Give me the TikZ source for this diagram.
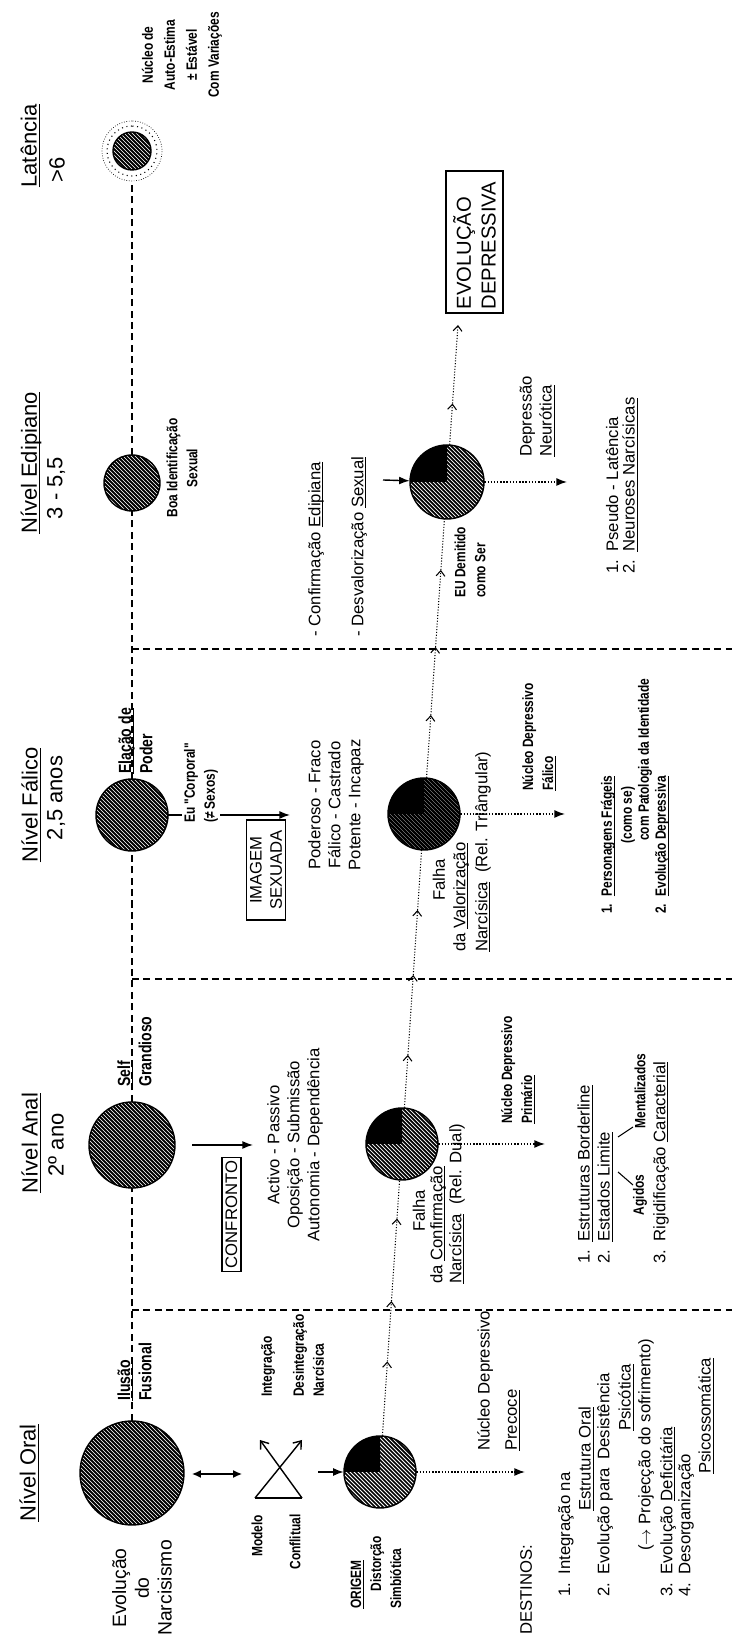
\documentclass[tikz,border=0pt]{standalone}
\usepackage{fontspec}
\setmainfont{Liberation Sans}
\newfontfamily\narrowfont[FakeStretch=0.8]{Liberation Sans}
\usetikzlibrary{arrows.meta,positioning,calc}

\newcommand\uln[1]{\leavevmode\setbox0\hbox{#1}\rlap{\rule[-1.6pt]{\wd0}{0.5pt}}\box0}
\newcommand\hatchdisc[4]{%
  \begin{scope}
    \clip (#1.center) circle (#2);
    \fill[white] (#1.center) circle (#2);
    \foreach \k in {-80,-76,...,80}
      \draw[line width=#4] ($(#1.center)+(\k-90,-90)$) -- ($(#1.center)+(\k+90,90)$);
    \ifnum#3=1
      \fill (#1.center) -- ++(#2,0) arc (0:90:#2) -- cycle;
    \fi
  \end{scope}
  \draw[line width=0.8pt] (#1.center) circle (#2);}

\begin{document}
\begin{tikzpicture}[x=0.02cm, y=0.02cm, rotate=90, transform shape,
  ttl/.style={font=\fontsize{12.5}{14}\selectfont},
  txt/.style={font=\fontsize{9.5}{11.4}\selectfont},
  lbl/.style={font=\narrowfont\bfseries\fontsize{8.5}{11.4}\selectfont},
  lbm/.style={font=\narrowfont\bfseries\fontsize{10}{12}\selectfont},
  disc/.style={circle, inner sep=0pt, minimum size={#1*0.04cm}},
  boxed/.style={draw, line width=0.8pt, inner sep=2pt},
  levelline/.style={dash pattern=on 4pt off 2.5pt, line width=0.8pt},
  flowarrow/.style={densely dotted, line width=0.6pt, -{Straight Barb[length=3pt,width=5pt]}},
  downarrow/.style={densely dotted, line width=0.8pt, -{Latex[length=6pt,width=4.5pt]}},
  push/.style={line width=0.8pt, -{Latex[length=6pt,width=4.5pt]}}]
  \useasboundingbox (0,0) rectangle (1636,-732);

  \node (tOral) [ttl] at (163,-29) {\uln{Nível Oral}};
  \node (tAnal) [ttl] at (493,-31) {\uln{Nível Anal}};
  \node (tAnalAge) [ttl] at (491,-56) {2º ano};
  \node (tFal) [ttl] at (831,-31) {\uln{Nível Fálico}};
  \node (tFalAge) [ttl] at (838,-56) {2,5 anos};
  \node (tEdip) [ttl] at (1173,-31) {\uln{Nível Edipiano}};
  \node (tEdipAge) [ttl] at (1148,-56) {3 - 5,5};
  \node (tLat) [ttl] at (1490,-30) {\uln{Latência}};
  \node (tLatAge) [ttl] at (1466,-57) {>6};

  \node (o1) [disc=52] at (163,-132) {};
  \node (a1) [disc=43] at (491,-132) {};
  \node (f1) [disc=36] at (821,-132) {};
  \node (e1) [disc=28] at (1153,-132) {};
  \node (l1) [disc=30] at (1485,-132) {};
  \draw[levelline] (o1) -- (a1);
  \draw[levelline] (a1) -- (f1);
  \draw[levelline] (f1) -- (e1);
  \draw[levelline] (e1) -- (l1);
  \draw[levelline] (326,-132) -- (326,-732);
  \draw[levelline] (657,-132) -- (657,-732);
  \draw[levelline] (987,-132) -- (987,-732);
  \hatchdisc{o1}{52}{0}{1.1pt}
  \hatchdisc{a1}{43}{0}{1.1pt}
  \hatchdisc{f1}{36}{0}{1.1pt}
  \hatchdisc{e1}{28}{0}{1.1pt}
  \begin{scope}
    \clip (l1.center) circle (19);
    \foreach \k in {-40,-36,...,40}
      \draw[line width=1.1pt] ($(l1.center)+(\k-40,-40)$) -- ($(l1.center)+(\k+40,40)$);
  \end{scope}
  \draw[line width=0.8pt] (l1.center) circle (19);
  \draw[dotted, line width=0.6pt] (l1.center) circle (25);
  \draw[densely dotted, line width=0.4pt] (l1.center) circle (30);

  \node (evoNarc) [font=\fontsize{11}{13}\selectfont, align=center] at (48,-142) {Evolução\\do\\Narcisismo};
  \node (ilusao) [lbm, align=left, anchor=west] at (229,-134.5) {\uln{Ilusão}\\Fusional};
  \coordinate (dblA) at (162,-192);
  \coordinate (dblB) at (162,-242);
  \draw[line width=0.8pt, {Latex[length=5pt,width=4.5pt]}-{Latex[length=5pt,width=4.5pt]}] (dblA) -- (dblB);
  \coordinate (xa) at (138,-255);
  \coordinate (xb) at (138,-302);
  \coordinate (xc) at (196,-260);
  \coordinate (xd) at (196,-302);
  \draw[line width=0.8pt] (xa) -- (xb);
  \draw[line width=0.8pt, -{Straight Barb[length=4pt,width=6pt]}] (xa) -- (xd);
  \draw[line width=0.8pt, -{Straight Barb[length=4pt,width=6pt]}] (xb) -- (xc);
  \node (modelo) [lbl] at (100,-257) {Modelo};
  \node (conflit) [lbl] at (94,-295) {Conflitual};
  \node (integ) [lbl, anchor=west] at (233,-268) {Integração};
  \node (desint) [lbl, align=left, anchor=west] at (233,-308.5) {Desintegração\\Narcísica};
  \node (o2) [disc=36] at (164,-380) {};
  \hatchdisc{o2}{36}{1}{1pt}
  \coordinate (o2in) at (164,-318);
  \draw[push] (o2in) -- (o2);
  \node (origem) [lbl, align=left, anchor=west] at (21,-376) {\uln{ORIGEM}\\\hspace*{10pt}Distorção\\Simbiótica};
  \coordinate (o2out) at (164,-525);
  \draw[downarrow] (o2) -- (o2out);
  \node (nucOral) [txt, align=left, anchor=west] at (179,-498.5) {Núcleo Depressivo\\[4pt]\uln{Precoce}};
  \node (destinos) [txt] at (46,-526) {DESTINOS:};
  \node (dst1) [txt, anchor=west] at (33,-566) {1.\enspace Integração na};
  \node (dst1b) [txt, anchor=west] at (119,-586) {\uln{Estrutura Oral}};
  \node (dst2) [txt, anchor=west] at (33,-605) {2.\enspace Evolução para\enspace Desistência};
  \node (dst2b) [txt, anchor=west] at (199,-626) {\uln{Psicótica}};
  \node (dst2c) [txt, anchor=west] at (79,-646) {($\rightarrow$ Projecção do sofrimento)};
  \node (dst3) [txt, anchor=west] at (33,-668) {3.\enspace Evolução \uln{Deficitária}};
  \node (dst4) [txt, anchor=west] at (33,-686) {4.\enspace Desorganização};
  \node (dst4b) [txt, anchor=west] at (156,-706) {\uln{Psicossomática}};

  \node (self) [lbm, align=left, anchor=west] at (543,-134.5) {\uln{Self}\\Grandioso};
  \coordinate (a1out) at (491,-253);
  \draw[push, shorten <=0.34cm] (a1) -- (a1out);
  \node (confronto) [boxed, txt] at (421.5,-231.5) {CONFRONTO};
  \node (activo) [txt, align=center] at (491,-295) {Activo - Passivo\\Oposição - Submissão\\Autonomia - Dependência};
  \node (o3) [disc=36] at (492,-402) {};
  \hatchdisc{o3}{36}{1}{1pt}
  \node (falhaA) [txt, anchor=east] at (452,-419) {Falha};
  \node (confA) [txt, anchor=west] at (346,-438) {da \uln{Confirmação}};
  \node (narcA) [txt, anchor=west] at (346,-457) {\uln{Narcísica}\ \ (Rel. Dual)};
  \coordinate (o3out) at (492,-545);
  \draw[downarrow] (o3) -- (o3out);
  \node (nucAnal) [lbl, align=left, anchor=west] at (506,-518) {Núcleo Depressivo\\\uln{Primário}};
  \node (bord) [txt, anchor=west] at (366,-585) {1.\enspace\uln{Estruturas Borderline}};
  \node (limite) [txt, anchor=west] at (366,-605) {2.\enspace\uln{Estados Limite}};
  \node (agidos) [lbl] at (441,-640) {Agidos};
  \node (mental) [lbl] at (545,-640) {Mentalizados};
  \node (rigid) [txt, anchor=west] at (366,-661) {3.\enspace Rigidificação \uln{Caracterial}};
  \coordinate (limA) at (464,-618);
  \coordinate (agiA) at (451,-633);
  \coordinate (limB) at (499,-618);
  \coordinate (menB) at (509,-633);
  \draw[line width=0.6pt] (limA) -- (agiA);
  \draw[line width=0.6pt] (limB) -- (menB);

  \node (elacao) [lbm, align=left, anchor=west] at (856,-135.5) {\uln{Elação de}\\Poder};
  \coordinate (f1out) at (821,-290);
  \draw[push] (f1) -- (f1out);
  \node (eucorp) [lbl, align=left, anchor=west, fill=white, inner sep=1pt] at (811,-201) {Eu "Corporal"\\(≠ Sexos)};
  \node (imagem) [boxed, txt, align=center, minimum width=2cm] at (766,-266) {IMAGEM\\SEXUADA};
  \node (poder) [txt, align=center] at (831,-336) {Poderoso - Fraco\\Fálico - Castrado\\Potente - Incapaz};
  \node (o4) [disc=36] at (822,-424) {};
  \hatchdisc{o4}{36}{1}{1.4pt}
  \node (falhaF) [txt, anchor=east] at (783,-439) {Falha};
  \node (valF) [txt, anchor=west] at (678,-461) {da \uln{Valorização}};
  \node (narcF) [txt, anchor=west] at (678,-483) {\uln{Narcísica}\ \ (Rel. Triângular)};
  \coordinate (o4out) at (822,-565);
  \draw[downarrow] (o4) -- (o4out);
  \node (nucFal) [lbl, align=left, anchor=west] at (839,-539) {Núcleo Depressivo\\\uln{Fálico}};
  \node (pers) [lbl, anchor=west] at (716,-608) {1.\enspace\uln{Personagens Frágeis}};
  \node (comose) [lbl] at (821,-628) {(como se)};
  \node (patol) [lbl, anchor=west] at (789,-645) {com Patologia da Identidade};
  \node (evdep) [lbl, anchor=west] at (716,-662) {2.\enspace\uln{Evolução Depressiva}};

  \node (boa) [lbl, align=center] at (1168,-182) {Boa Identificação\\Sexual};
  \node (confE) [txt, anchor=west] at (993,-316) {- Confirmação \uln{Edipiana}};
  \node (desvE) [txt, anchor=west] at (993,-359) {- Desvalorização \uln{Sexual}};
  \node (o5) [disc=37] at (1154,-447) {};
  \hatchdisc{o5}{37}{1}{1pt}
  \coordinate (o5in) at (1156,-383);
  \draw[push] (o5in) -- (o5);
  \node (demitido) [lbl, align=left, anchor=west] at (1032,-470) {EU Demitido\\como Ser};
  \coordinate (o5out) at (1154,-567);
  \draw[downarrow] (o5) -- (o5out);
  \node (neur) [txt, align=left, anchor=west] at (1173,-537) {Depressão\\\uln{Neurótica}};
  \node (pseudo) [txt, anchor=west] at (1056,-612) {1.\enspace Pseudo - Latência};
  \node (neuros) [txt, anchor=west] at (1056,-630) {2.\enspace\uln{Neuroses Narcísicas}};
  \node (evol) [boxed, font=\fontsize{11.5}{14}\selectfont, align=left, text width=2.7cm, minimum height=1.14cm] at (1394,-474.5) {EVOLUÇÃO\\DEPRESSIVA};
  \coordinate (evtip) at (1311,-458);

  \node (nucLat) [lbl, align=center, font=\narrowfont\bfseries\fontsize{8.5}{12.5}\selectfont] at (1581,-182) {Núcleo de\\Auto-Estima\\± Estável\\Com Variações};

  \coordinate (p1) at ($(o2)!0.337!(o3)$);
  \coordinate (p2) at ($(o2)!0.521!(o3)$);
  \coordinate (p3) at ($(o2)!0.773!(o3)$);
  \draw[flowarrow] (o2) -- (p1);
  \draw[flowarrow] (p1) -- (p2);
  \draw[flowarrow] (p2) -- (p3);
  \draw[densely dotted, line width=0.6pt] (p3) -- (o3);
  \coordinate (q1) at ($(o3)!0.27!(o4)$);
  \coordinate (q2) at ($(o3)!0.512!(o4)$);
  \coordinate (q3) at ($(o3)!0.709!(o4)$);
  \draw[flowarrow] (o3) -- (q1);
  \draw[flowarrow] (q1) -- (q2);
  \draw[flowarrow] (q2) -- (q3);
  \draw[densely dotted, line width=0.6pt] (q3) -- (o4);
  \coordinate (r1) at ($(o4)!0.298!(o5)$);
  \coordinate (r2) at ($(o4)!0.503!(o5)$);
  \coordinate (r3) at ($(o4)!0.735!(o5)$);
  \draw[flowarrow] (o4) -- (r1);
  \draw[flowarrow] (r1) -- (r2);
  \draw[flowarrow] (r2) -- (r3);
  \draw[densely dotted, line width=0.6pt] (r3) -- (o5);
  \coordinate (s1) at ($(o5)!0.5!(evtip)$);
  \draw[flowarrow] (o5) -- (s1);
  \draw[flowarrow] (s1) -- (evtip);
\end{tikzpicture}
\end{document}
